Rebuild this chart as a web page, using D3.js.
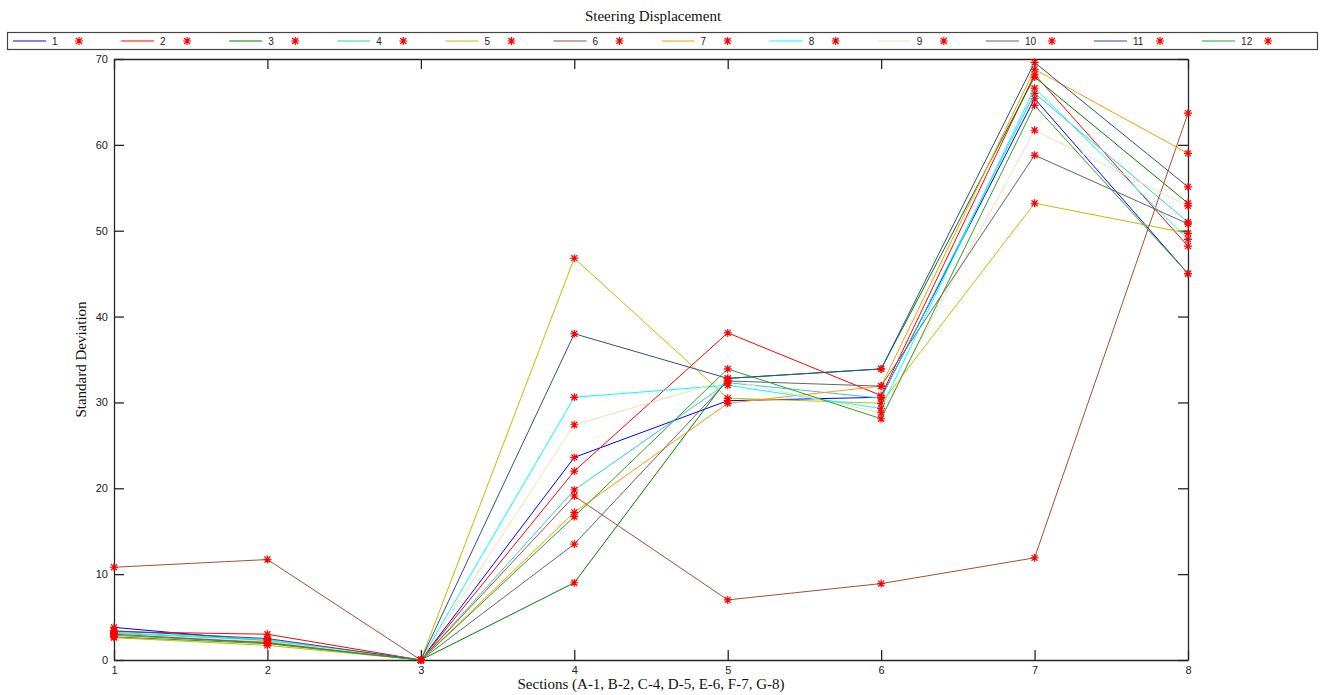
<!DOCTYPE html>
<html>
<head>
<meta charset="utf-8">
<script src="https://cdn.jsdelivr.net/npm/d3@7"></script>
<style>
  html, body { margin: 0; padding: 0; background: #fff; }
  svg { display: block; }
</style>
</head>
<body>
<svg id="chart" width="1321" height="695"></svg>
<script>
// Sections along the x axis
const sections = [1, 2, 3, 4, 5, 6, 7, 8];
const yTicks = [0, 10, 20, 30, 40, 50, 60, 70];
const seriesNames = ["1", "2", "3", "4", "5", "6", "7", "8", "9", "10", "11", "12"];

// Standard deviation of steering displacement per subject, by section
const s1  = [3.8, 2.2, 0, 23.6, 30.2, 30.6, 65.4, 45.0];
const s2  = [3.3, 3.0, 0, 22.0, 38.1, 30.8, 68.2, 48.2];
const s3  = [2.9, 2.0, 0,  9.0, 32.8, 33.9, 67.9, 53.2];
const s4  = [3.1, 2.3, 0, 19.8, 32.3, 30.5, 66.0, 51.0];
const s5  = [2.6, 1.7, 0, 46.8, 30.5, 29.9, 53.2, 49.7];
const s6  = [10.8, 11.7, 0, 19.1, 7.0, 8.9, 11.9, 63.7];
const s7  = [2.9, 2.1, 0, 17.2, 29.9, 31.9, 68.8, 59.0];
const s8  = [3.2, 2.4, 0, 30.6, 32.0, 29.3, 66.6, 49.0];
const s9  = [3.0, 2.2, 0, 27.4, 32.6, 28.8, 61.7, 52.9];
const s10 = [3.0, 2.0, 0, 13.5, 32.5, 31.9, 58.8, 50.8];
const s11 = [3.4, 2.5, 0, 38.0, 32.8, 33.9, 69.6, 55.1];
const s12 = [2.7, 1.9, 0, 16.7, 33.9, 28.1, 64.6, 45.0];
const seriesValues = [s1, s2, s3, s4, s5, s6, s7, s8, s9, s10, s11, s12];

const colors = ["#0000ff", "#ff0000", "#008000", "#33cccc", "#bfbf00", "#a0522d",
                "#ff9900", "#00ffff", "#f5deb3", "#666666", "#2f4f8f", "#2ca02c"];

const svg = d3.select("#chart");
const plotLeft = 114, plotRight = 1188, plotTop = 59, plotBottom = 660;

const x = d3.scaleLinear().domain([1, 8]).range([plotLeft, plotRight]);
const y = d3.scaleLinear().domain([0, 70]).range([plotBottom, plotTop]);

const axisColor = "#262626";
const tickFont = "Liberation Sans, Arial, sans-serif";

// Axes with inward ticks on all four sides
const gBottom = svg.append("g").attr("transform", `translate(0,${plotBottom})`)
  .call(d3.axisBottom(x).tickValues(sections).tickFormat(d3.format("d")).tickSizeInner(-10).tickSizeOuter(0).tickPadding(4));
const gTop = svg.append("g").attr("transform", `translate(0,${plotTop})`)
  .call(d3.axisTop(x).tickValues(sections).tickFormat("").tickSizeInner(-10).tickSizeOuter(0));
const gLeft = svg.append("g").attr("transform", `translate(${plotLeft},0)`)
  .call(d3.axisLeft(y).tickValues(yTicks).tickFormat(d3.format("d")).tickSizeInner(-10).tickSizeOuter(0).tickPadding(6));
const gRight = svg.append("g").attr("transform", `translate(${plotRight},0)`)
  .call(d3.axisRight(y).tickValues(yTicks).tickFormat("").tickSizeInner(-10).tickSizeOuter(0));

[gBottom, gTop, gLeft, gRight].forEach(g => {
  g.select(".domain").attr("stroke", axisColor).attr("stroke-width", 1.3);
  g.selectAll(".tick line").attr("stroke", axisColor).attr("stroke-width", 1.3);
  g.selectAll(".tick text").attr("fill", "#222").style("font-family", tickFont).style("font-size", "11px");
});
gBottom.selectAll(".tick text").attr("dy", "0.9em");

// Data: each series drawn as a thin line followed by red asterisk markers
const line = d3.line().x((d, i) => x(sections[i])).y(d => y(d));
const star = "M-4,0H4M0,-4V4M-3,-3L3,3M-3,3L3,-3";

const plot = svg.append("g");
seriesValues.forEach((vals, k) => {
  plot.append("path")
    .attr("d", line(vals))
    .attr("fill", "none")
    .attr("stroke", colors[k])
    .attr("stroke-width", 1)
    .attr("stroke-linejoin", "round");
  plot.append("g").selectAll("path")
    .data(vals)
    .join("path")
    .attr("transform", (d, i) => `translate(${x(sections[i])},${y(d)})`)
    .attr("d", star)
    .attr("stroke", "#ff0000")
    .attr("stroke-width", 1.2)
    .attr("fill", "none");
});

// Title and axis labels
const serif = "Liberation Serif, 'Times New Roman', serif";
svg.append("text")
  .attr("x", (plotLeft + plotRight) / 2 + 2).attr("y", 21)
  .attr("text-anchor", "middle")
  .style("font-family", serif).style("font-size", "15px").attr("fill", "#111")
  .text("Steering Displacement");

svg.append("text")
  .attr("x", (plotLeft + plotRight) / 2).attr("y", 689)
  .attr("text-anchor", "middle")
  .style("font-family", serif).style("font-size", "15px").attr("fill", "#111")
  .text("Sections (A-1, B-2, C-4, D-5, E-6, F-7, G-8)");

svg.append("text")
  .attr("transform", `translate(86,${(plotTop + plotBottom) / 2}) rotate(-90)`)
  .attr("text-anchor", "middle")
  .style("font-family", serif).style("font-size", "15px").attr("fill", "#111")
  .text("Standard Deviation");

// Legend strip across the top
const legend = svg.append("g");
legend.append("rect")
  .attr("x", 7.5).attr("y", 32.5).attr("width", 1310).attr("height", 17)
  .attr("fill", "#fff").attr("stroke", "#444").attr("stroke-width", 1.2);

const entries = legend.selectAll("g.entry")
  .data(seriesNames)
  .join("g")
  .attr("class", "entry")
  .attr("transform", (d, i) => `translate(${13 + i * 108.1},41)`);

entries.append("line")
  .attr("x1", 0).attr("x2", 33).attr("y1", 0).attr("y2", 0)
  .attr("stroke", (d, i) => colors[i]).attr("stroke-width", 1.2);
entries.append("text")
  .attr("x", 39).attr("y", 4)
  .style("font-family", tickFont).style("font-size", "10px").attr("fill", "#222")
  .text(d => d);
entries.append("path")
  .attr("transform", "translate(66,0)")
  .attr("d", star)
  .attr("stroke", "#ff0000").attr("stroke-width", 1.2).attr("fill", "none");
</script>
</body>
</html>
